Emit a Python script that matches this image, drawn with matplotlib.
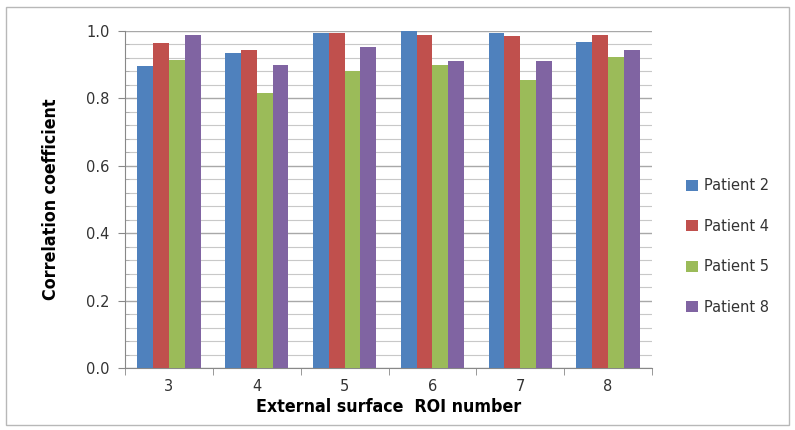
import matplotlib
matplotlib.use("Agg")
import matplotlib.pyplot as plt
import numpy as np
from matplotlib.ticker import MultipleLocator, FixedLocator
from matplotlib.patches import Rectangle

categories = ["3", "4", "5", "6", "7", "8"]
series_names = ["Patient 2", "Patient 4", "Patient 5", "Patient 8"]
patient2 = [0.897, 0.934, 0.995, 1.000, 0.994, 0.968]
patient4 = [0.964, 0.945, 0.995, 0.989, 0.984, 0.989]
patient5 = [0.914, 0.817, 0.882, 0.900, 0.856, 0.922]
patient8 = [0.989, 0.900, 0.954, 0.910, 0.910, 0.944]
y_ticks = [0.0, 0.2, 0.4, 0.6, 0.8, 1.0]
colors = ["#4F81BD", "#C0504D", "#9BBB59", "#8064A2"]

fig = plt.figure(figsize=(7.95, 4.3), dpi=100)
fig.patches.append(Rectangle((0.008, 0.012), 0.984, 0.972, transform=fig.transFigure,
                             fill=False, edgecolor="#b8b8b8", linewidth=1.0))
ax = fig.add_axes([125/795, 1 - 368/430, (652-125)/795, (368-31)/430])

x = np.arange(len(categories))
bw = 0.18
for i, (vals, name) in enumerate(zip([patient2, patient4, patient5, patient8], series_names)):
    ax.bar(x + (i - 1.5) * bw, vals, width=bw, color=colors[i], label=name, zorder=3)

ax.set_xlim(-0.5, len(categories) - 0.5)
ax.set_ylim(0, 1.0)
ax.set_yticks(y_ticks)
ax.set_yticklabels([f"{v:.1f}" for v in y_ticks], fontsize=10.5, color="#333333")
ax.yaxis.set_minor_locator(MultipleLocator(0.04))
ax.set_xticks(x)
ax.set_xticklabels(categories, fontsize=10.5, color="#333333")
ax.xaxis.set_minor_locator(FixedLocator(np.arange(-0.5, len(categories), 1.0)))
ax.tick_params(axis="x", which="major", length=0, pad=8)
ax.tick_params(axis="x", which="minor", length=5, direction="out", color="#888888")
ax.tick_params(axis="y", which="major", length=5, direction="out", color="#888888", pad=6)
ax.tick_params(axis="y", which="minor", length=3, direction="in", color="#aaaaaa")

ax.grid(True, axis="y", which="major", color="#a8a8a8", linewidth=1.0, zorder=0)
ax.grid(True, axis="y", which="minor", color="#c8c8c8", linewidth=0.8, zorder=0)
for s in ["top", "right"]:
    ax.spines[s].set_visible(False)
ax.spines["left"].set_color("#888888")
ax.spines["bottom"].set_color("#888888")

lab_font = dict(family=["DejaVu Sans"], fontweight="bold", fontsize=12.8, fontstretch="condensed")
ax.set_ylabel("Correlation coefficient", labelpad=19, **lab_font)
ax.set_xlabel("External surface  ROI number", labelpad=3, **lab_font)

leg = ax.legend(loc="center left", bbox_to_anchor=(1.04, 0.36), frameon=False,
                fontsize=10.5, handlelength=0.8, handleheight=0.8, handletextpad=0.4,
                labelspacing=1.75)
for t in leg.get_texts():
    t.set_color("#333333")

fig.savefig("out.png", dpi=100)
